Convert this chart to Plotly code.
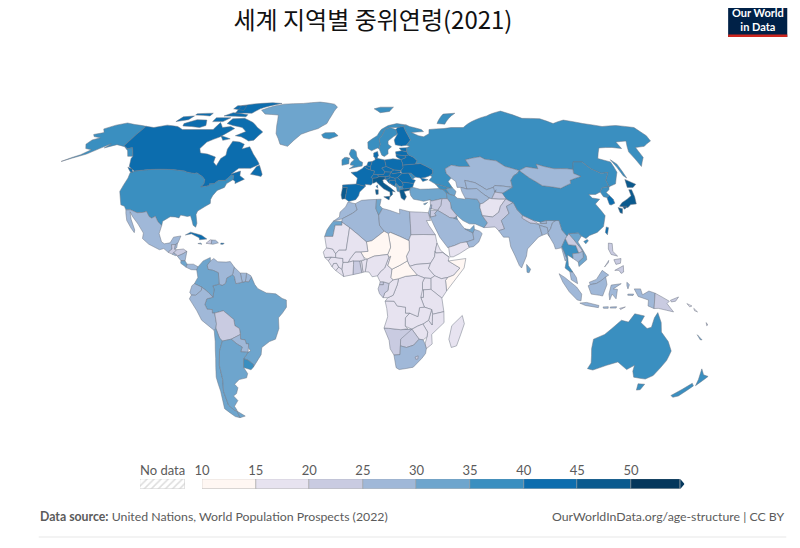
"""Median age by country, 2021 (simplified hand-drawn outlines, no topojson available offline)"""

import plotly.graph_objects as go

# (lon,lat) rings, rough outlines estimated by eye
outlines = {
    "USA": ["-124.7,48.4 -123,49 -95.2,49 -94.6,48.7 -92,48.3 -89.5,48 -88.4,48.3 -84.8,46.8 -83.5,46 -82.5,45.3 -82.1,43.6 -83.1,42.2 -79,42.8 -79.2,43.5 -76.8,43.6 -75,45 -71.5,45 -70.3,46.2 -69.2,47.4 -67.8,47.1 -67.5,45.3 -70.2,43.6 -70.7,42 -74,40.7 -75.5,38.5 -76,36.9 -75.6,35.2 -77.9,33.9 -81,32 -81.4,30.5 -80.1,26.8 -80.4,25.2 -81.8,26 -82.8,28 -84,30 -85.5,29.7 -89,30.3 -89.5,29.1 -91.5,29.5 -94,29.6 -97.2,27.7 -97.2,25.9 -99.5,27.5 -101.4,29.8 -103,29 -104.5,29.7 -106.5,31.8 -108.2,31.4 -111,31.3 -114.8,32.5 -117.1,32.5 -118.5,34 -120.6,34.6 -122.4,37.5 -124.3,40.3 -124,46",
            "-141,69.6 -141,60.3 -137.5,59 -135,59.5 -130,55.5 -133,55.5 -136,58 -140,59.8 -146,60.8 -151.5,59.3 -150,61.2 -153.5,59.2 -158,56.5 -164,54.6 -168,53.2 -164.5,54.9 -161,56.2 -158,58.5 -162,59 -165,61 -164.5,63 -161,64 -166,64.6 -168,65.6 -163,66.5 -166.5,68.3 -162,70.2 -156.5,71.3 -150,70.5"],
    "Canada": ["-141,69.6 -135,69 -128,70.2 -120,69.5 -115,68 -108,68 -100,68 -95,68 -94,71.5 -90,69 -85,69.5 -81.5,68.5 -85,66 -87,64.5 -93,62 -94.5,59 -92.5,57 -88,56.5 -82.5,55.2 -82,52.9 -79.5,51.3 -79,54.5 -77,56 -78,58.7 -77.5,62.4 -73,62 -69.5,61 -69.5,58.8 -65.5,59.8 -61.5,56.5 -57,53 -56,52 -60,50.2 -66.5,50.2 -69.5,47.7 -65,49 -64.5,47 -61.5,45.5 -65.8,43.6 -66,44.5 -67.5,45.3 -67.8,47.1 -69.2,47.4 -70.3,46.2 -71.5,45 -75,45 -76.8,43.6 -79.2,43.5 -79,42.8 -83.1,42.2 -82.1,43.6 -82.5,45.3 -83.5,46 -84.8,46.8 -88.4,48.3 -89.5,48 -92,48.3 -94.6,48.7 -95.2,49 -123,49 -127.5,51 -130,54.5 -130,55.5 -135,59.5 -137.5,59 -141,60.3",
               "-80,73.7 -72,71.5 -67,69 -62,66.8 -65,62.9 -68,62.5 -74,64.5 -78,65 -73,67 -77,69 -84,70 -89,71 -88,73.5",
               "-117,69.8 -105,69 -102,70 -105,72.8 -112,73 -118,71",
               "-125,72 -118,73 -117,75 -124,74.5",
               "-90,76.5 -78,76.5 -75,79 -62,82.5 -70,83 -85,82 -92,81",
               "-96,75 -80,74.5 -80,75.7 -92,76.8",
               "-117,75.5 -106,75 -106,76.5 -117,76.2",
               "-95,79 -86,78 -88,81 -95,81",
               "-87,65 -80,63.5 -84,62.8",
               "-59,47.6 -53,46.7 -52.7,47.6 -55.6,51.5 -57,51",
               "-128,50.7 -125,50 -123.4,48.4 -125,48.7",
               "-100,72 -93,72 -90,74 -100,74"],
    "Greenland": ["-73,78.2 -66,80.8 -60,82 -45,82.5 -32,83.5 -20,82 -17,80 -20,75 -22,71 -27,68.5 -37,65.7 -43,60 -48,61 -53,66 -55,70 -58,75.5 -68,76"],
    "Iceland": ["-24,65.5 -22,66.4 -16,66.5 -13.5,65 -18.8,63.4 -22.5,64"],
    "Mexico": ["-117.1,32.5 -114.8,32.5 -111,31.3 -108.2,31.4 -106.5,31.8 -104.5,29.7 -103,29 -101.4,29.8 -99.5,27.5 -97.2,25.9 -97.8,22.5 -96,19 -94.5,18.2 -91.8,18.6 -90.5,21 -87,21.5 -88,18.5 -89.1,17.9 -91,17.8 -90.5,16 -92.2,14.6 -94.5,16.2 -96.5,15.7 -102,18 -105.5,20.4 -105.5,22.7 -109,26.5 -112.5,29.5 -114.7,31.7 -113,28.5 -110,24 -110,22.9 -112,24.8 -115,28 -116.5,31"],
    "Guatemala": ["-92.2,14.6 -90.5,16 -91,17.8 -89.1,17.9 -89.2,15.9 -88.2,15.7 -89.4,14.4 -90.1,13.8"],
    "Belize": ["-89.1,17.9 -88.2,18.4 -88.3,16.5 -89.2,15.9"],
    "El Salvador": ["-90.1,13.8 -89.4,14.4 -87.8,13.4 -88.5,13.2"],
    "Honduras": ["-89.4,14.4 -88.2,15.7 -85,16 -83.2,15 -85,14 -87.3,13 -87.8,13.4"],
    "Nicaragua": ["-87.6,13 -85,14 -83.2,15 -83.7,11 -85.7,11.1"],
    "Costa Rica": ["-85.7,11.1 -83.7,11 -82.6,9.6 -83,8.3 -85.7,10"],
    "Panama": ["-83,8.3 -82.6,9.6 -79.6,9.6 -77.3,8.5 -77.9,7.2 -80.5,7.3"],
    "Cuba": ["-84.9,21.9 -82.5,23.1 -77,21.8 -74.2,20.2 -77.7,19.9 -78,20.7 -82,22.4"],
    "Haiti": ["-74.4,18.4 -72.5,19.9 -71.7,19.8 -71.8,18.1"],
    "Dominican Republic": ["-71.7,19.8 -69.9,19.7 -68.4,18.6 -71,18 -71.8,18.1"],
    "Jamaica": ["-78.3,18.3 -76.3,18 -77,18.5"],
    "Puerto Rico": ["-67.2,18.5 -65.6,18.4 -66,18 -67.2,18"],
    "Brazil": ["-51.6,4.2 -50,1 -48.5,-0.7 -44.5,-2.5 -40,-2.9 -37,-4.8 -35,-5.5 -35,-8.5 -37,-11 -39,-13 -39,-17.5 -41,-22 -44,-23 -48,-25.5 -48.7,-28.5 -52,-32.2 -53.4,-33.7 -53.2,-32.6 -55.5,-30.9 -57.6,-30.2 -55,-27.5 -53.7,-26.9 -54.6,-25.6 -54.3,-24 -55.5,-23.9 -55.8,-22.3 -58,-22 -57.9,-20 -58.1,-17.5 -60.2,-16.3 -60.5,-13.7 -65.3,-10 -69.5,-11 -70.6,-11 -70.6,-9.5 -73,-9.4 -74,-7.4 -73,-5 -70,-4.3 -69.4,-1 -70,0.5 -67,1.2 -65.5,0.7 -64,1.5 -63.4,3.8 -60.7,5.2 -59.8,4.4 -59,1.4 -56,2 -54.5,2.3 -52.9,2.2"],
    "French Guiana": ["-54.5,2.3 -54,5.8 -52,4.8 -51.6,4.2 -52.9,2.2"],
    "Suriname": ["-56,2 -57,5.9 -54,5.8 -54.5,2.3"],
    "Guyana": ["-59.8,4.4 -60.7,5.2 -60,8.4 -57,5.9 -56,2 -59,1.4"],
    "Venezuela": ["-71.5,11 -70,12 -68,10.6 -64,10.5 -62,10.7 -60,8.4 -60.7,5.2 -63.4,3.8 -64,1.5 -65.5,0.7 -67,1.2 -67.5,6 -70,7 -72.5,7.4 -73,9.2"],
    "Colombia": ["-77.3,8.5 -75,11 -71.7,12.4 -71.5,11 -73,9.2 -72.5,7.4 -70,7 -67.5,6 -67,1.2 -70,0.5 -69.4,-1 -70,-4.3 -72,-2.4 -75.2,-0.1 -78.8,1.4 -77.2,4 -77.9,7.2"],
    "Ecuador": ["-78.8,1.4 -75.2,-0.1 -75.5,-1.5 -78.3,-3.5 -80.3,-3.4 -81,-2.2 -80,0.5"],
    "Peru": ["-80.3,-3.4 -78.3,-3.5 -75.5,-1.5 -75.2,-0.1 -72,-2.4 -70,-4.3 -73,-5 -74,-7.4 -73,-9.4 -70.6,-9.5 -70.6,-11 -69.5,-11 -69,-15.5 -69.5,-17.5 -70.4,-18.3 -76,-14 -78,-10 -81.3,-5"],
    "Bolivia": ["-69.5,-11 -65.3,-10 -60.5,-13.7 -60.2,-16.3 -58.1,-17.5 -57.9,-20 -62.6,-22 -67,-22.8 -68.2,-21.5 -69.5,-17.5 -69,-15.5"],
    "Paraguay": ["-58,-22 -57.9,-20 -62.6,-22 -60,-24 -57.6,-25.3 -58.6,-27.3 -55,-27.5 -54.6,-25.6 -54.3,-24 -55.5,-23.9 -55.8,-22.3"],
    "Chile": ["-70.4,-18.3 -69.5,-17.5 -68.2,-21.5 -67,-22.8 -69,-27 -70.4,-33 -70.5,-39 -72,-44 -72,-50 -69.8,-52.3 -68.6,-52.6 -68.6,-55.5 -71,-55 -75,-51.5 -73.5,-44 -73.5,-38 -71.5,-30 -70.5,-23"],
    "Argentina": ["-67,-22.8 -62.6,-22 -60,-24 -57.6,-25.3 -58.6,-27.3 -55,-27.5 -57.6,-30.2 -58.4,-33.9 -57,-36.5 -58,-38.3 -62,-39 -65,-41 -63.8,-42.5 -65.5,-45 -67.5,-46 -66,-48 -69,-50.5 -68.4,-52.3 -69.8,-52.3 -72,-50 -72,-44 -70.5,-39 -70.4,-33 -69,-27",
                  "-68.6,-52.6 -65.2,-54.8 -68.6,-55.5"],
    "Uruguay": ["-57.6,-30.2 -55.5,-30.9 -53.2,-32.6 -53.4,-33.7 -54.9,-34.9 -58.4,-33.9"],
    "UK": ["-5.7,50 1.4,51.2 1.7,52.8 0,53.5 -1.6,55.5 -2,57.6 -3.3,58.6 -5,58.6 -6,56.5 -4.8,55 -3,54 -4.8,52.8 -5.2,51.7 -3,51.4",
           "-7.3,55 -5.5,54.6 -6,54 -7.3,54.4"],
    "Ireland": ["-6,54 -6,52.2 -9.8,51.5 -10,54 -8.5,55 -7.3,55 -7.3,54.4"],
    "France": ["-1.8,43.4 -1.2,46 -4.7,48.4 -1.5,48.7 1.5,50.1 2.5,51 4.2,50 6,49.5 8.2,49 7.6,47.6 6.2,46.2 7,45.9 7,44 6,43 3,43.3 3,42.4",
               "8.6,42.4 9.4,43 9.5,41.6"],
    "Spain": ["-9,43 -1.8,43.4 3,42.4 0,40 -0.5,38.5 -2,36.8 -5.5,36 -7.4,37.2 -7,39.5 -6.5,42 -8.9,42"],
    "Portugal": ["-8.9,42 -6.5,42 -7,39.5 -7.4,37.2 -9,37 -9.5,38.8"],
    "Belgium": ["2.5,51 4,51.4 6,50.8 6,49.5 4.2,50"],
    "Netherlands": ["4,51.4 4.8,53 7.1,53.2 6,50.8"],
    "Germany": ["6,50.8 7.1,53.2 8.9,54 8.7,54.9 10,54.6 14.2,53.9 14.7,51 12.2,50.3 13.8,48.7 13,47.5 9.6,47.5 7.6,47.6 8.2,49 6,49.5"],
    "Switzerland": ["7.6,47.6 9.6,47.5 10.4,46.6 9,46 7,45.9 6.2,46.2"],
    "Austria": ["9.6,47.5 13,47.5 13.8,48.7 16.9,48.6 16.2,46.9 13.7,46.5 10.4,46.6"],
    "Italy": ["7,45.9 9,46 10.4,46.6 13.7,46.5 13.7,45.6 12.3,45.2 12.6,44 16,41.9 18.5,40.1 16.9,40.4 17,39 15.7,38 15.7,40 12.5,41.4 10.5,43 8.8,44.4 7.5,43.8 7,44",
              "12.4,38 15.6,38.2 15,36.7", "8.2,41 9.7,41 9.6,39.1 8.5,39"],
    "Denmark": ["8.1,55.5 8.7,54.9 10,54.6 10.8,56 10.5,57.7 8.2,57"],
    "Norway": ["5,59 7,58 10.5,59.2 11.5,59 12.5,61 12,63.5 14,65 16.5,68 20,69 25,69 29,69.5 31,70.3 25,71 19,70 14,68 11,65 5,62",
               "11,79 16,80 26,80 22,77.5 15,76.8"],
    "Sweden": ["11.5,59 12.8,56 14.2,55.4 16.5,56.6 16.7,58.5 19,59.8 17.2,61 17.4,62.5 21,64.5 24,65.8 23.5,68 20,69 16.5,68 14,65 12,63.5 12.5,61"],
    "Finland": ["24,65.8 21.3,63 21.5,60.7 25,60.2 28,60.5 31.3,63 29.7,67 29,69.5 25,69 23.5,68"],
    "Estonia": ["23.5,59.2 28,59.4 27.5,57.6 24.5,58"],
    "Latvia": ["21,57.5 24.5,58 27.5,57.6 28.2,56.1 26,55.7 21,56.2"],
    "Lithuania": ["21,56.2 26,55.7 26.6,55 23.5,54 21,55.3"],
    "Poland": ["14.2,53.9 19,54.4 23.5,54 24,52.5 24,50.5 22.7,49.2 18.8,49.5 14.7,51"],
    "Czechia": ["12.2,50.3 14.7,51 18.8,49.5 16.9,48.6 13.8,48.7"],
    "Slovakia": ["16.9,48.6 18.8,49.5 22.5,49.1 22,48.4 18,47.8"],
    "Hungary": ["16.2,46.9 16.9,48.6 18,47.8 22,48.4 22.9,48 20.3,46.1 18.9,45.9 16.5,46.4"],
    "Slovenia": ["13.7,46.5 16.2,46.9 16.5,46.4 15.5,45.6 13.7,45.6"],
    "Croatia": ["13.6,45.4 15.5,45.6 16.5,46.4 18.9,45.9 19,45 16,45 15.7,44 18.4,42.5 15.3,44 14.3,45.2"],
    "Bosnia": ["16,45 19,45 19.3,44 18.4,42.5 15.7,44"],
    "Serbia": ["18.9,45.9 20.3,46.1 22.5,44.3 23,43 22.3,42.3 20.5,42.4 20.3,42.8 19.3,43.5 19.3,44 19,45"],
    "Montenegro": ["18.4,42.5 19.3,43.5 20.3,42.8 19.3,41.9"],
    "Albania": ["19.3,41.9 20.3,42.8 20.6,41.9 20.8,40.9 20.8,40 19.5,40.4"],
    "North Macedonia": ["20.6,41.9 22.3,42.3 23,41.3 20.8,40.9"],
    "Greece": ["20.8,40 20.8,40.9 23,41.3 26.4,41.7 26,40.8 23,40.3 24,38 22.8,36.5 21.3,37.5"],
    "Bulgaria": ["22.5,44.3 28.6,43.7 27.7,42 26.4,41.7 23,41.3 22.3,42.3 23,43"],
    "Romania": ["20.3,46.1 22.9,48 26.6,48.2 28.2,45.5 29.7,45 28.6,43.7 22.5,44.3"],
    "Moldova": ["26.6,48.2 28,48.1 30,46.4 28.2,45.5"],
    "Ukraine": ["22.7,49.2 24,50.5 24,51.6 31,52.1 34,52.3 40,49.6 39.7,48 37.5,46.9 35,46.2 33,46 36.5,45.3 33.5,44.5 32.5,46 30,46.4 28,48.1 26.6,48.2 22.9,48 22.5,49.1"],
    "Belarus": ["24,51.6 24,52.5 23.5,54 26.6,55 26,55.7 28.2,56.1 31,55 32.5,53.5 31,52.1"],
    "Russia": ["28,60.5 30,60 28,59.4 27.5,57.6 28.2,56.1 31,55 32.5,53.5 31,52.1 34,52.3 40,49.6 39.7,48 38,47.1 39,46.5 37,45 40,43.4 43,42.8 46.7,41.7 48.5,41.8 47,44.5 49,46 47,48 47,50 51,51.6 55,51 61,51 60,54 69,55.3 71,54.2 77,53.5 80.5,51 87.3,49.2 92,50.8 98,50 98.5,52 102,51 107,50 114,50 117,49.7 120,53 125,53 127,50 131,48 135,48.4 131,45 130.7,42.3 135,43.5 140,48.5 141,53 135.5,54.5 142,59.3 150,59.5 155,59 156,62 163,62.5 157,57.5 156,51 162,55 164,59.5 170,60 178,62.5 180,65 180,69 170,70 160,69.5 150,71 140,72.8 130,71 125,73.5 113,73.7 104,77.7 90,75 80,73 73,71 68,69 60,69 55,68.5 45,68 44,66 40,64.5 37,65 33,66.5 41,67 40,68 33,69.5 31,70.3 29,69.5 29.7,67 31.3,63",
               "142,54 143.5,52 143,46 142,47", "52,71 57,70.7 69,76.5 60,76"],
    "Turkey": ["26,40 26.4,41.7 28,42 31.5,41.2 36,41.3 41.5,41.5 43.5,41 44.8,39.7 44.8,37.2 42,37.2 36.5,36.2 36,36.8 32.5,36.1 30.5,36.5 27.5,37 26.3,38.5"],
    "Georgia": ["40,43.4 43,42.8 46.7,41.7 45,41.2 43.5,41 41.5,41.5"],
    "Armenia": ["43.5,41 45,41.2 46.5,39 44.8,39.7"],
    "Azerbaijan": ["45,41.2 46.7,41.7 48.5,41.8 50,40.3 48.8,38.4 46.5,39"],
    "Iran": ["44.8,39.7 46.5,39 48.8,38.4 50,37.4 54,37 54,37.4 60,37 61,35 60.5,33.5 61,30 63,27 61,25 57,26.5 54,26.6 51,28 48.5,30 46,33 46,35.5 44.8,37.2"],
    "Iraq": ["42,37.2 44.8,37.2 46,35.5 46,33 48.5,30 47.7,29.2 46.5,29 44.7,29.2 39,32.3 41,34.4"],
    "Syria": ["36,36.8 36.5,36.2 42,37.2 41,34.4 39,32.3 36,33 35.8,35"],
    "Jordan": ["35.5,32.3 39,32.3 37.5,31 38,30 35,29.4"],
    "Israel": ["34.3,31.3 35.2,33.1 36,33 35.5,32.3 35,29.4"],
    "Lebanon": ["35.2,33.1 36,33 36.5,34.6 35.9,34.6"],
    "Saudi Arabia": ["35,29.4 38,30 37.5,31 39,32.3 44.7,29.2 46.5,29 48.4,28.5 50.2,26 51.5,24.5 55.3,22.8 55.5,20 52,19 49,18.6 46,17.5 43,16.7 42.7,16.4 39,21 37,25"],
    "Yemen": ["43,16.7 46,17.5 49,18.6 52,19 53,16.7 48,14 45,12.7 43.4,12.7"],
    "Oman": ["52,19 55.5,20 55.3,22.8 56.2,24.3 58.7,23.5 59.8,22.5 57.8,19 55,17 53,16.7"],
    "UAE": ["51.5,24.5 54,24.2 56.2,26 56.2,24.3 55.3,22.8"],
    "Kuwait": ["46.5,29 48.4,28.5 48,30 47.7,29.2"],
    "Cyprus": ["32.3,35 34.5,35.6 33,34.6"],
    "Kazakhstan": ["47,50 47,48 49,46 51,44.5 51,42 53,42 55.9,41.3 56,45 61,44 66,41 70,42 71,42.8 80,42 80.5,45 83,47 85.5,48 87.3,49.2 80.5,51 77,53.5 71,54.2 69,55.3 60,54 61,51 55,51 51,51.6"],
    "Uzbekistan": ["56,45 61,44 66,41 70,42 71,41 67.5,37.2 66.5,37.4 64,39 61,41.5 57,41.3 55.9,41.3"],
    "Turkmenistan": ["52.8,41.5 53,42 55.9,41.3 57,41.3 61,41.5 64,39 66.5,37.4 62.5,35.3 61,35 60,37 54,37.4 53,40"],
    "Kyrgyzstan": ["70,42 71,42.8 80,42 74,39.5 70,40"],
    "Tajikistan": ["67.5,37.2 71,41 70,40 74,39.5 75,37 71,37"],
    "Afghanistan": ["60.5,33.5 61,30 66,29.5 69.5,31.5 71,34 74.5,37 71,37 67.5,37.2 66.5,37.4 62.5,35.3 61,35"],
    "Pakistan": ["61,25 66.5,25.3 68,23.7 71,24.5 70,28 74.5,31 74,34 77.8,35.5 75,37 74.5,37 71,34 69.5,31.5 66,29.5 61,30 63,27"],
    "India": ["68,23.7 70,21 72.7,21 73,17 74.8,13 76.5,9 77.5,8 80.2,13 81,16 87,21 89,21.8 88.3,26 92,25 92,23 93.5,24.5 95,27 97.5,28.3 92,28 92,26.8 89,26.8 88.2,26.5 84,27 80.5,29 81,30.2 79,32.5 78,35.5 77.8,35.5 74,34 74.5,31 70,28 71,24.5"],
    "Nepal": ["80.5,29 81,30.2 86,28 88.2,26.5 84,27"],
    "Bhutan": ["89,27.3 92,28 92,26.8 89,26.8"],
    "Bangladesh": ["88.3,26 89,21.8 91.5,22.5 92.5,21 92,23 92,25"],
    "Sri Lanka": ["80,9.5 81.8,7.5 81,6 80,6.2"],
    "Myanmar": ["92.5,21 94,18 94.5,16 97.5,16.5 98.6,11 99.5,12 98.5,15 97.7,17 100,20.3 101,21.5 99,24 98.5,28 97.5,28.3 95,27 93.5,24.5 92,23"],
    "Thailand": ["100,20.3 97.7,17 98.5,15 99.5,12 98.3,8 100.5,6.4 102,6.2 100,9 100,13.5 102.5,12 102.5,14 105.5,14.3 104.5,17.5 101,17.8"],
    "Laos": ["100,20.3 101,21.5 102,22.5 104,20 107,16 107.5,15 105.5,14.3 104.5,17.5 101,17.8"],
    "Vietnam": ["102,22.5 106.7,22.8 108,21.5 105.8,19 109,13 109,11.5 105,8.6 104.8,10.5 107.5,12.5 107.5,15 107,16 104,20"],
    "Cambodia": ["102.5,12 104.8,10.5 107.5,12.5 107.5,15 105.5,14.3 102.5,14"],
    "China": ["73.7,39.4 74,39.5 80,42 80.5,45 83,47 85.5,48 87.3,49.2 91,46 96,42.7 105,41.6 111.5,43.7 112,45 119,46.7 116,48 117,49.7 120,53 125,53 127,50 131,48 135,48.4 131,45 130.7,42.3 128,42 126.6,41.7 124.5,40 121.5,39 118,39 119,37.5 122.5,37 119.3,35 121,32 122,30 119.7,25.5 116,23 112,21.7 110,20.4 108,21.5 106.7,22.8 102,22.5 101,21.5 99,24 98.5,28 92,28 89,27.3 86,28 81,30.2 79,32.5 78,35.5 75,37",
              "108.7,19.2 110.5,20 111,19.5 109.5,18.2"],
    "Taiwan": ["120,23 121,25.3 122,25 120.8,22"],
    "Mongolia": ["87.3,49.2 92,50.8 98,50 98.5,52 102,51 107,50 114,50 117,49.7 116,48 119,46.7 112,45 111.5,43.7 105,41.6 96,42.7 91,46"],
    "South Korea": ["126.6,37.7 128.4,38.6 129.4,37 129.3,35.3 127,34.5 126.3,34.8"],
    "North Korea": ["124.5,40 126.6,41.7 128,42 130.7,42.3 129.7,41 127.5,39.8 128.4,38.6 126.6,37.7 125,38"],
    "Japan": ["131,34 135,33.5 137,34.7 140,35 141,38 141.5,41 140,41 139.5,38.5 136.5,37 133,35.5",
              "140,42 141.5,45.4 145.5,43.3 143,42", "130,33.5 132,33 131,31 130,31.3", "132.5,34 134.5,34 134,33.3 132.8,32.8"],
    "Malaysia": ["100.5,6.4 102,6.2 103.5,4 104,1.4 101,3", "109.6,2 113,3.2 116,7 119,5 117.5,4.2 115,2.5 113,1.5 110,1"],
    "Indonesia": ["110,1 113,1.5 115,2.5 117.5,4.2 118,1 116,-3.8 114.5,-3.5 110.5,-3 109,0.5",
                  "95.3,5.6 98,4 103.5,0 106,-3 105.8,-5.8 104,-5.5 100,-2 97,2",
                  "105.3,-6.8 108.5,-6.5 114.5,-7.8 114.3,-8.7 108,-7.8",
                  "119.5,-5.5 119,-3 120,0.8 124.8,1.4 121,-0.8 123,-1 122.5,-5 120.5,-3",
                  "131,-0.8 134,-0.8 135,-3.3 138,-1.7 141,-2.6 141,-9.1 138,-8 138,-5.5 133,-4",
                  "116.5,-8.4 119,-8.3 119,-9 116.8,-9", "120,-8.4 123,-8.3 122.8,-8.9 120,-8.9",
                  "127.5,2 128.7,1 128,-0.8 127.5,0.5", "128,-3 130.8,-3 130.5,-3.6 128,-3.5"],
    "Timor-Leste": ["124.5,-9 127.2,-8.4 125,-9.5"],
    "Papua New Guinea": ["141,-2.6 145,-4.5 148,-6 147,-7 150.5,-10.5 147,-9.8 143,-9 141,-9.1", "148.5,-5.6 152.3,-4.2 151,-6 149,-6.3"],
    "Solomon Islands": ["156.5,-7 159,-8 158,-8.4", "160,-9 162,-10.5 160.5,-10"],
    "Philippines": ["120.5,18.5 122.3,18.3 122,15 124,13 121,13.7 120,16", "122,7 126.3,9 126.2,6.3 125,5.7 124,7",
                    "122,11.5 125.5,12 125,10 122.8,9.5", "117.2,8.4 119.5,11.2 119.2,10.2"],
    "Australia": ["114,-22 114,-26 115.8,-32 115,-34.4 118,-35 124,-33 129,-31.6 135,-34.8 138,-33 138.5,-35.5 140.5,-38 144,-38.5 147,-38.8 150,-37.3 153,-31 153.5,-27 150.7,-23 146.3,-19 145.3,-15 143,-10.8 141.7,-13 141,-17 139,-17.5 135.5,-15 136.8,-12.2 132,-11.3 129.5,-14.8 126,-14 122,-17.5 119,-20",
                  "144.7,-40.8 148.3,-41 147.8,-43.3 146,-43.5"],
    "New Zealand": ["172.8,-34.5 175.5,-37 178.4,-37.7 177,-39.5 175.3,-41.6 174.5,-39", "172.7,-40.6 174.3,-41.7 170.7,-46 168.3,-46.6 166.5,-45.8"],
    "New Caledonia": ["164,-20.1 167,-22.3 166,-22.2"],
    "Vanuatu": ["167,-15 168,-16 167.5,-16.3"],
    "Morocco": ["-5.9,35.8 -2.2,35.1 -1.2,32.5 -3.6,31 -8.7,28.7 -13,27.7 -10,29.5 -9.8,31.5 -7,33.8"],
    "Western Sahara": ["-13,27.7 -8.7,27.7 -8.7,26 -12,26 -13,21.3 -17,21.3 -16,24 -14.5,26"],
    "Algeria": ["-2.2,35.1 1,36.5 8.6,36.9 8.2,33 9.5,30.2 9.8,26 12,23.5 6,19.5 3.3,19 -4.9,25 -8.7,27.3 -8.7,28.7 -3.6,31 -1.2,32.5"],
    "Tunisia": ["8.6,36.9 11,37 10.2,34.3 11.5,33.1 9.5,30.2 8.2,33"],
    "Libya": ["11.5,33.1 15,32.3 20,30.8 20,32.8 25,31.7 25,22 24,20 24,19.5 15,23 14,22.5 12,23.5 9.8,26 9.5,30.2"],
    "Egypt": ["25,31.7 31,31.5 34.3,31.3 35,28 33,28 34,26 36.9,22 25,22"],
    "Sudan": ["25,22 36.9,22 37.5,18.5 36.4,15 36,12.7 34,10 27,9.5 24,8.7 22.9,11 22.5,13 24,15.5 24,20"],
    "South Sudan": ["24,8.7 27,9.5 34,10 33,7.8 35.9,4.7 34,3.6 31,3.8 27.5,5"],
    "Eritrea": ["36.4,15 37.5,18.5 39,15.5 43,12.5 40,14.5 36.7,14.3"],
    "Ethiopia": ["36.4,15 36.7,14.3 40,14.5 43,12.5 42.5,11 48,8 45,5 42,4 39,3.5 35.9,4.7 33,7.8 34,10 36,12.7"],
    "Somalia": ["43,11 51,12 50,8 41.5,-1.7 41,2.8 42,4 45,5 48,8 42.5,11"],
    "Kenya": ["35.9,4.7 39,3.5 42,4 41,2.8 41.5,-1.7 39.3,-4.7 34,-1 34,3.6"],
    "Uganda": ["31,3.8 34,3.6 34,-1 30,-1.2 30,2"],
    "Rwanda": ["29,-1.3 30.5,-1.2 30.5,-4.4 29.2,-4.4"],
    "Tanzania": ["30.5,-1.2 34,-1 39.3,-4.7 40.4,-10.4 35,-11.5 34.5,-9.5 31,-8.5 29.2,-4.4 30.5,-4.4"],
    "Mozambique": ["40.4,-10.4 40.7,-15 35,-20 35.5,-24 32.8,-26 32,-24 32.8,-21 33,-19 30.5,-15.6 33.2,-14 35,-16 35,-14.5 35,-11.5"],
    "Malawi": ["34.5,-9.5 35,-11.5 35,-14.5 35,-16 33.2,-14"],
    "Zambia": ["22,-13 24,-11 28,-12.5 28.7,-8.7 31,-8.5 34.5,-9.5 33.2,-14 30.5,-15.6 28,-16.5 25.3,-17.8 22,-16.5"],
    "Zimbabwe": ["25.3,-17.8 28,-16.5 30.5,-15.6 33,-19 32.8,-21 31,-22.3 29,-22"],
    "Botswana": ["20,-18 25.3,-17.8 29,-22 26.5,-24.5 23,-25.5 20,-24.8 20,-22"],
    "Namibia": ["11.8,-17.3 14,-17.4 20,-18 25.3,-17.8 20,-22 20,-28.5 17,-28.7 15,-26 14.4,-22.5"],
    "South Africa": ["17,-28.7 20,-28.5 20,-24.8 23,-25.5 26.5,-24.5 29,-22 31,-22.3 32,-24 32.8,-26 32.6,-28 31,-30 27,-33.8 20,-34.8 18.4,-34"],
    "Lesotho": ["27.5,-29.5 29,-29 29,-30.3 28,-30.5"],
    "Angola": ["11.8,-17.3 13.5,-12.5 13,-9 12.2,-6 13,-5.9 16.5,-6 18,-8 22,-8.5 22,-11 24,-11 22,-13 22,-16.5 23.3,-17.6 20,-18 14,-17.4"],
    "DR Congo": ["12.2,-6 13.5,-4.5 16,-3.5 18,1 18.6,3.5 22,4.5 27.5,5 31,3.8 30,2 30,-1.2 29.2,-4.4 31,-8.5 28.7,-8.7 28,-12.5 24,-11 22,-11 22,-8.5 18,-8 16.5,-6 13,-5.9"],
    "Congo": ["11.2,-4.5 13.5,-4.5 16,-3.5 18,1 18.6,3.5 16,3 14,1.5 13.5,-1.5 12,-2.5"],
    "Gabon": ["8.8,-0.8 9.5,1 11.3,1 11.3,2.2 14,1.5 13.5,-1.5 12,-2.5 11.2,-4.5 9.5,-2.8"],
    "Equatorial Guinea": ["9.5,1 11.3,1 11.3,2.2 9.8,2.2"],
    "Cameroon": ["8.5,4.7 9.8,2.2 11.3,2.2 14,1.5 16,3 15,4 15.5,7.5 13.5,9 15,13 14,12.5 12,8 10,6.5"],
    "Central African Republic": ["15,4 16,3 18.6,3.5 22,4.5 27.5,5 24,8.7 22.9,11 19,9 15.5,7.5"],
    "Chad": ["14,12.5 15,13 13.5,9 15.5,7.5 19,9 22.9,11 22.5,13 24,15.5 24,19.5 15,23 14,22.5 15,16.8 13.5,13.7"],
    "Niger": ["3.6,11.7 7,13 13.5,13.7 15,16.8 14,22.5 12,23.5 6,19.5 3.3,19 4,15 0.5,14.8 2,12.5"],
    "Nigeria": ["2.7,6.4 4.5,6.3 6,4.3 8.5,4.7 10,6.5 12,8 14,12.5 13.5,13.7 7,13 3.6,11.7"],
    "Benin": ["1.6,6.2 2.7,6.4 3.6,11.7 2.4,11.5 0.9,10.9"],
    "Togo": ["0.9,10.9 1.6,6.2 1,6 0,11"],
    "Ghana": ["-3.2,5.2 1,6 0,11 -2.9,11 -2.9,9.5"],
    "Burkina Faso": ["-5.5,10.4 -2.9,11 0,11 2.4,11.5 2,12.5 0.5,14.8 -2,14.8 -4.5,12"],
    "Ivory Coast": ["-7.6,4.4 -3.2,5.2 -2.9,9.5 -2.9,11 -5.5,10.4 -8,10.4 -8.5,7.5"],
    "Liberia": ["-11.4,6.9 -7.6,4.4 -8.5,7.5 -10,8.4"],
    "Sierra Leone": ["-13.2,8.5 -11.4,6.9 -10,8.4 -11,10 -12.5,9.9"],
    "Guinea": ["-15,11 -13.2,8.5 -12.5,9.9 -11,10 -10,8.4 -8.5,7.5 -8,10.4 -8,12 -11.5,12.4 -13.7,12.6"],
    "Guinea-Bissau": ["-16.7,12.4 -13.7,12.6 -15,11"],
    "Senegal": ["-17.5,14.7 -16,16.5 -13,16 -11.5,14 -11.5,12.4 -13.7,12.6 -16.7,12.4"],
    "Mauritania": ["-17,21.3 -13,21.3 -12,26 -8.7,26 -8.7,27.3 -4.9,25 -6.5,15.5 -10,15.5 -11.5,14 -13,16 -16,16.5"],
    "Mali": ["-11.5,14 -10,15.5 -6.5,15.5 -4.9,25 3.3,19 4,15 0.5,14.8 -2,14.8 -4.5,12 -5.5,10.4 -8,10.4 -8,12 -11.5,12.4"],
    "Madagascar": ["49.3,-12 50.5,-15.5 47.5,-24.8 45,-25.5 43.5,-22 44.5,-16.3"],
}

# median age per country, estimated from the colour bin in the picture
median_age = {
    "USA": 38, "Canada": 41, "Greenland": 33, "Iceland": 37, "Mexico": 29, "Guatemala": 23, "Belize": 25, "El Salvador": 27,
    "Honduras": 24, "Nicaragua": 26, "Costa Rica": 33, "Panama": 29, "Cuba": 42, "Haiti": 23, "Dominican Republic": 27,
    "Jamaica": 31, "Puerto Rico": 43, "Brazil": 33, "French Guiana": 26, "Suriname": 28, "Guyana": 26, "Venezuela": 29,
    "Colombia": 31, "Ecuador": 27, "Peru": 28, "Bolivia": 24, "Paraguay": 26, "Chile": 33, "Argentina": 32, "Uruguay": 36,
    "UK": 39, "Ireland": 38, "France": 42, "Spain": 44, "Portugal": 45, "Belgium": 41, "Netherlands": 42, "Germany": 44,
    "Switzerland": 42, "Austria": 43, "Italy": 47, "Denmark": 41, "Norway": 39, "Sweden": 39, "Finland": 42, "Estonia": 42,
    "Latvia": 43, "Lithuania": 43, "Poland": 41, "Czechia": 43, "Slovakia": 41, "Hungary": 43, "Slovenia": 44, "Croatia": 44,
    "Bosnia": 42, "Serbia": 43, "Montenegro": 38, "Albania": 36, "North Macedonia": 39, "Greece": 45, "Bulgaria": 44,
    "Romania": 42, "Moldova": 37, "Ukraine": 41, "Belarus": 40, "Russia": 39, "Turkey": 32, "Georgia": 37, "Armenia": 35,
    "Azerbaijan": 32, "Iran": 32, "Iraq": 21, "Syria": 22, "Jordan": 23, "Israel": 29, "Lebanon": 28, "Saudi Arabia": 29,
    "Yemen": 18, "Oman": 29, "UAE": 33, "Kuwait": 33, "Cyprus": 37, "Kazakhstan": 29, "Uzbekistan": 27, "Turkmenistan": 27,
    "Kyrgyzstan": 26, "Tajikistan": 22, "Afghanistan": 17, "Pakistan": 21, "India": 28, "Nepal": 24, "Bhutan": 28,
    "Bangladesh": 26, "Sri Lanka": 33, "Myanmar": 28, "Thailand": 39, "Laos": 23, "Vietnam": 32, "Cambodia": 26, "China": 38,
    "Taiwan": 42, "Mongolia": 27, "South Korea": 43, "North Korea": 35, "Japan": 48, "Malaysia": 29, "Indonesia": 29,
    "Timor-Leste": 20, "Papua New Guinea": 21, "Solomon Islands": 19, "Philippines": 24, "Australia": 37, "New Zealand": 37,
    "New Caledonia": 33, "Vanuatu": 20, "Morocco": 28, "Western Sahara": 31, "Algeria": 28, "Tunisia": 32, "Libya": 27,
    "Egypt": 24, "Sudan": 18, "South Sudan": 18, "Eritrea": 19, "Ethiopia": 18, "Somalia": 14, "Kenya": 19, "Uganda": 15,
    "Rwanda": 19, "Tanzania": 17, "Mozambique": 16, "Malawi": 17, "Zambia": 16, "Zimbabwe": 17, "Botswana": 22, "Namibia": 21,
    "South Africa": 27, "Lesotho": 21, "Angola": 15, "DR Congo": 15, "Congo": 18, "Gabon": 21, "Equatorial Guinea": 21,
    "Cameroon": 17, "Central African Republic": 14, "Chad": 14, "Niger": 14, "Nigeria": 17, "Benin": 17, "Togo": 18,
    "Ghana": 21, "Burkina Faso": 17, "Ivory Coast": 18, "Liberia": 18, "Sierra Leone": 18, "Guinea": 18, "Guinea-Bissau": 18,
    "Senegal": 18, "Mauritania": 17, "Mali": 15.5, "Madagascar": 18,
}

bin_edges = [10, 15, 20, 25, 30, 35, 40, 45, 50]
bin_widths = [5, 5, 5, 5, 5, 5, 5, 5, 4.6]
bin_colors = ["#fff7f3", "#e7e3f0", "#c9cbe1", "#a0b8d8", "#6ea5cd", "#3a8fc0", "#0c6dae", "#0a5a8e", "#04375c"]

PAGE_MARGIN = 8  # the browser puts the figure 8px in from the corner


# paper x for a pixel of the final picture, measured off the last render
def px_x(x):
    return (x - 16.3) / 0.988 / 800


def px_y(y):
    return 1 - (y - PAGE_MARGIN) / 548


def ring(text):
    points = [[float(v) for v in pair.split(",")] for pair in text.split()]
    points.append(points[0])
    area = sum(a[0] * b[1] - b[0] * a[1] for a, b in zip(points, points[1:]))
    # exterior rings clockwise, otherwise d3-geo fills the rest of the globe
    return points[::-1] if area > 0 else points


def age_color(age):
    for edge, color in zip(reversed(bin_edges), reversed(bin_colors)):
        if age >= edge:
            return color
    return bin_colors[0]


fig = go.Figure()
for name, rings in outlines.items():
    lon, lat = [], []
    for text in rings:
        for point in ring(text):
            lon.append(point[0])
            lat.append(point[1])
        lon.append(None)
        lat.append(None)
    fig.add_trace(go.Scattergeo(lon=lon, lat=lat, mode="lines", fill="toself", fillcolor=age_color(median_age[name]),
                                line=dict(color="#6f7785", width=0.5), name=name, showlegend=False,
                                hoverinfo="name"))

# legend bins
fig.add_trace(go.Bar(x=[e + w / 2 for e, w in zip(bin_edges, bin_widths)], y=[1] * 9, width=bin_widths,
                     marker=dict(color=bin_colors, line=dict(color="#9a9a9a", width=0.5)),
                     showlegend=False, hoverinfo="skip", xaxis="x", yaxis="y"))
fig.add_trace(go.Bar(x=[0], y=[1], width=[1],
                     marker=dict(color="white", line=dict(color="#bdbdbd", width=0.5),
                                 pattern=dict(shape="/", fgcolor="#bbbbbb", size=5, solidity=0.3)),
                     showlegend=False, hoverinfo="skip", xaxis="x2", yaxis="y2"))

fig.update_layout(
    width=800, height=548, margin=dict(l=0, r=0, t=0, b=0), paper_bgcolor="white", plot_bgcolor="white",
    font=dict(family="Lato", color="#5b5b5b"), bargap=0,
    geo=dict(projection=dict(type="robinson", scale=0.953, rotation=dict(lon=0)), center=dict(lon=25, lat=2.1),
             domain=dict(x=[0, 1], y=[0, 1]), bgcolor="rgba(0,0,0,0)",
             showframe=False, showland=False, showocean=False, showlakes=False, showrivers=False,
             showcountries=False, showcoastlines=False, showsubunits=False),
    xaxis=dict(domain=[px_x(202), px_x(683.5)], range=[10, 55], tickvals=bin_edges, side="top", anchor="y",
               showgrid=False, zeroline=False, showline=False, ticks="", tickfont=dict(family="Lato", size=13, color="#5b5b5b")),
    yaxis=dict(domain=[px_y(489), px_y(479)], range=[0, 1], visible=False),
    xaxis2=dict(domain=[px_x(140), px_x(185)], range=[-0.5, 0.5], visible=False, anchor="y2"),
    yaxis2=dict(domain=[px_y(489), px_y(479)], range=[0, 1], visible=False),
    # the title is placed against the container, not the plot area
    title=dict(text="세계 지역별 중위연령(2021)", x=(373 - PAGE_MARGIN) / 800, xanchor="center", y=px_y(21), yanchor="middle",
               font=dict(family="Noto Sans CJK KR", size=24, color="#111111")),
)

# arrow tip of the last legend bin
fig.add_shape(type="path", path="M 54.6 0 L 55 0.5 L 54.6 1 Z", xref="x", yref="y", fillcolor="#04375c", line_width=0)

# logo
fig.add_shape(type="rect", xref="paper", yref="paper", x0=px_x(727), x1=px_x(786), y0=px_y(37), y1=px_y(4), fillcolor="#002147", line_width=0)
fig.add_shape(type="rect", xref="paper", yref="paper", x0=px_x(727), x1=px_x(786), y0=px_y(37), y1=px_y(34.5), fillcolor="#ce261e", line_width=0)
fig.add_annotation(text="<b>Our World<br>in Data</b>", xref="paper", yref="paper", x=px_x(756.5), y=px_y(19), xanchor="center", yanchor="middle",
                   showarrow=False, font=dict(family="Lato", size=11, color="white"), align="center")

fig.add_annotation(text="No data", xref="paper", yref="paper", x=px_x(162.5), y=px_y(470), xanchor="center", yanchor="middle", showarrow=False,
                   font=dict(family="Lato", size=13, color="#5b5b5b"))
fig.add_annotation(text="<b>Data source:</b> United Nations, World Population Prospects (2022)", xref="paper", yref="paper",
                   x=px_x(38), y=px_y(516), xanchor="left", yanchor="middle", showarrow=False, font=dict(family="Lato", size=12.3, color="#5b5b5b"))
fig.add_annotation(text="OurWorldInData.org/age-structure | CC BY", xref="paper", yref="paper",
                   x=px_x(785), y=px_y(516), xanchor="right", yanchor="middle", showarrow=False, font=dict(family="Lato", size=12.3, color="#5b5b5b"))
fig.add_shape(type="line", xref="paper", yref="paper", x0=px_x(39), x1=px_x(785), y0=px_y(537), y1=px_y(537),
              line=dict(color="#e7e7e7", width=1))

fig.write_html("out.html")
